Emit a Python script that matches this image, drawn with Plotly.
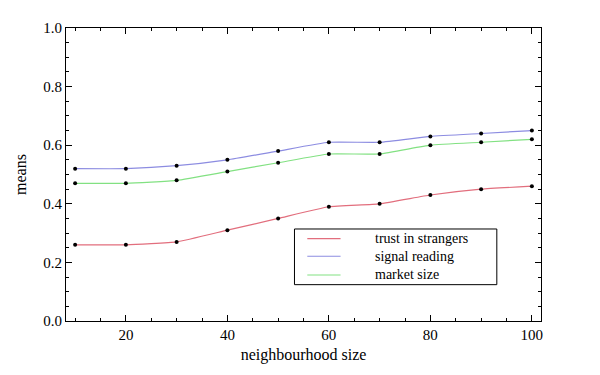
import plotly.graph_objects as go

neighbourhood = [10, 20, 30, 40, 50, 60, 70, 80, 90, 100]
trust_in_strangers = [0.26, 0.26, 0.27, 0.31, 0.35, 0.39, 0.40, 0.43, 0.45, 0.46]
signal_reading = [0.52, 0.52, 0.53, 0.55, 0.58, 0.61, 0.61, 0.63, 0.64, 0.65]
market_size = [0.47, 0.47, 0.48, 0.51, 0.54, 0.57, 0.57, 0.60, 0.61, 0.62]

series = [
    ("trust in strangers", trust_in_strangers, "rgb(226,110,125)"),
    ("signal reading", signal_reading, "rgb(140,140,225)"),
    ("market size", market_size, "rgb(130,225,130)"),
]

FONT = "Liberation Serif"
fig = go.Figure()
for name, vals, col in series:
    fig.add_trace(go.Scatter(
        x=neighbourhood, y=vals, mode="lines", name=name,
        line=dict(color=col, width=1.2, shape="spline", smoothing=0.4),
        showlegend=False, hoverinfo="skip"))
for name, vals, col in series:
    fig.add_trace(go.Scatter(
        x=neighbourhood, y=vals, mode="markers",
        marker=dict(color="black", size=4), showlegend=False))

# manual legend (Mathematica-style box)
shapes = [dict(type="rect", xref="paper", yref="paper", x0=0.481, x1=0.907,
               y0=0.124, y1=0.314, line=dict(color="black", width=1),
               fillcolor="white", layer="above")]
annotations = []
rows = [0.281, 0.221, 0.157]
for (name, vals, col), yy in zip(series, rows):
    shapes.append(dict(type="line", xref="paper", yref="paper", x0=0.508, x1=0.578,
                       y0=yy, y1=yy, line=dict(color=col, width=1.2), layer="above"))
    annotations.append(dict(xref="paper", yref="paper", x=0.646, y=yy, text=name,
                            showarrow=False, xanchor="left", yanchor="middle",
                            font=dict(family=FONT, size=14, color="black")))

axis_common = dict(
    showgrid=False, zeroline=False, showline=True, linecolor="black", linewidth=1,
    mirror="ticks", ticks="inside", ticklen=6, tickwidth=1, tickcolor="black",
    tickfont=dict(family=FONT, size=15, color="black"),
)

fig.update_layout(
    width=600, height=375,
    margin=dict(l=47, r=67, t=14, b=62),
    paper_bgcolor="white", plot_bgcolor="white",
    shapes=shapes, annotations=annotations,
    xaxis=dict(**axis_common, range=[8.2, 101.8], tickvals=[20, 40, 60, 80, 100],
               minor=dict(ticks="inside", ticklen=3, tickcolor="black", dtick=5, tick0=0),
               title=dict(text="neighbourhood size", font=dict(family=FONT, size=16, color="black"), standoff=6)),
    yaxis=dict(**axis_common, range=[0, 1], tickvals=[0, 0.2, 0.4, 0.6, 0.8, 1.0],
               tickformat=".1f",
               minor=dict(ticks="inside", ticklen=3, tickcolor="black", dtick=0.05, tick0=0),
               title=dict(text="means", font=dict(family=FONT, size=16, color="black"), standoff=12)),
)

fig.write_html("out.html")
